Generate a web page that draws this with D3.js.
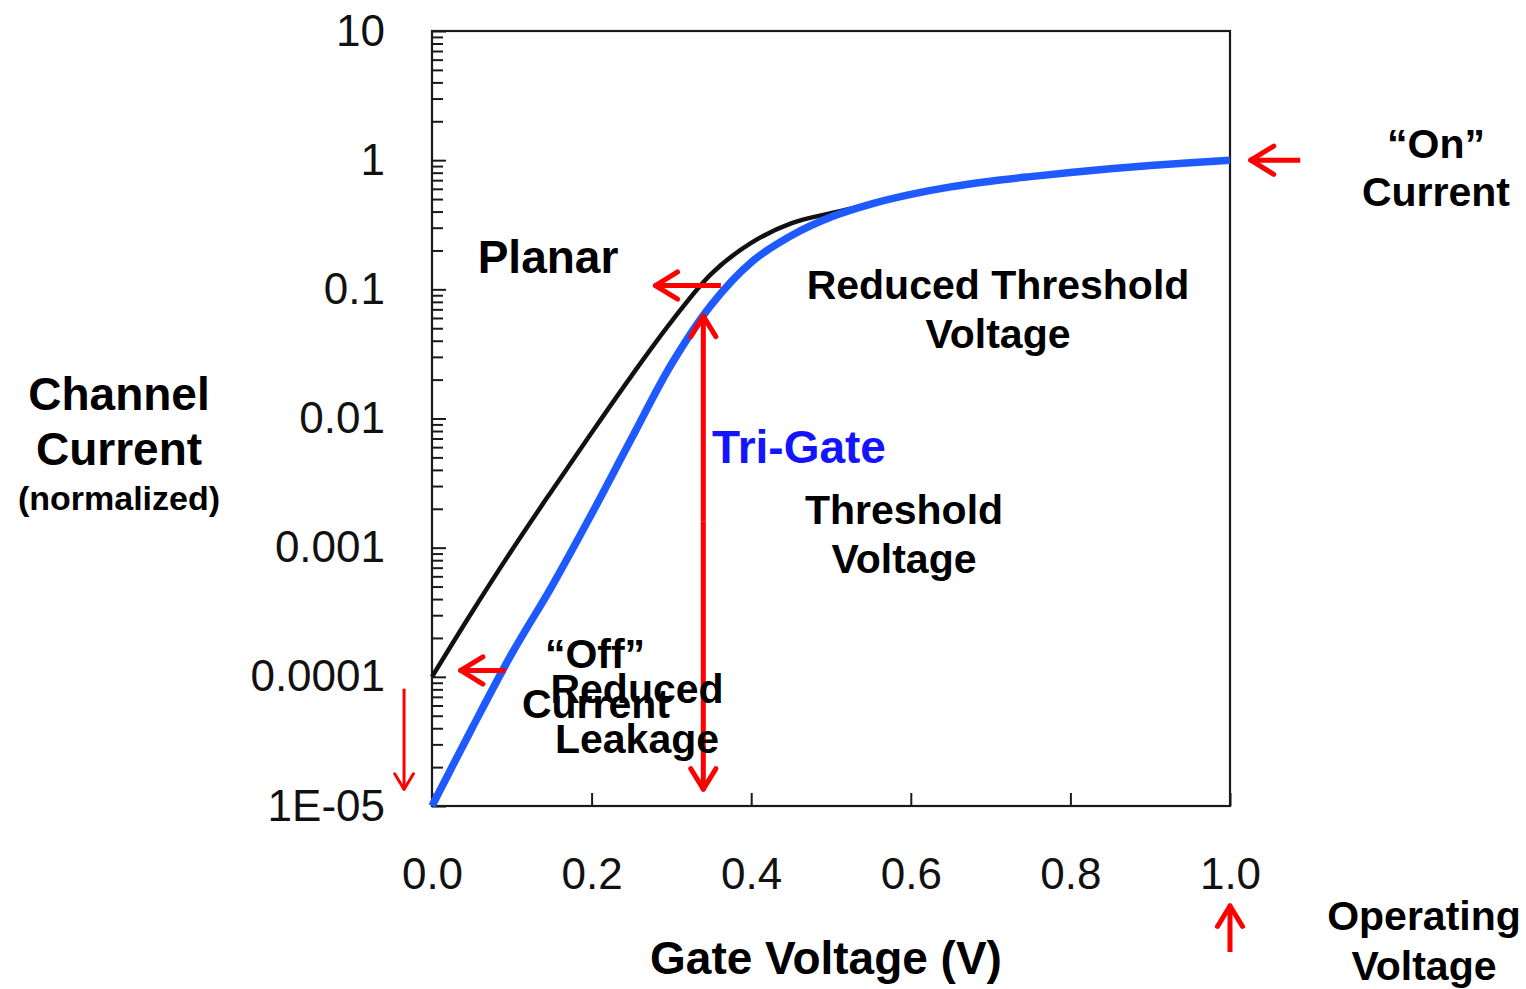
<!DOCTYPE html>
<html>
<head>
<meta charset="utf-8">
<script src="https://cdn.jsdelivr.net/npm/d3@7"></script>
<style>
  html, body { margin: 0; padding: 0; background: #fff; }
  svg { display: block; font-family: "Liberation Sans", Arial, sans-serif; }
  .tick text { fill: #111; }
  .lbl { font-weight: bold; }
</style>
</head>
<body>
<svg id="chart" width="1526" height="989"></svg>
<script>
// Gate voltage samples (V)
const planarVoltage = [0, 0.05, 0.1, 0.15, 0.2, 0.25, 0.3, 0.35, 0.4, 0.45, 0.5, 0.55, 0.6, 0.65, 0.7, 0.75, 0.8, 0.85, 0.9, 0.95, 1.0];
// Planar transistor channel current (normalized)
const planarCurrent = [1e-4, 3.16e-4, 9.55e-4, 2.75e-3, 7.76e-3, 0.0214, 0.0562, 0.132, 0.229, 0.324, 0.389, 0.457, 0.543, 0.621, 0.687, 0.746, 0.804, 0.857, 0.908, 0.955, 1.0];
// Tri-Gate gate voltage samples (V)
const triGateVoltage = [0, 0.05, 0.1, 0.15, 0.2, 0.25, 0.3, 0.35, 0.4, 0.45, 0.5, 0.55, 0.6, 0.65, 0.7, 0.75, 0.8, 0.85, 0.9, 0.95, 1.0];
// Tri-Gate transistor channel current (normalized)
const triGateCurrent = [1e-5, 3.98e-5, 1.51e-4, 5e-4, 1.82e-3, 7e-3, 0.0263, 0.0759, 0.162, 0.26, 0.363, 0.457, 0.543, 0.621, 0.687, 0.746, 0.804, 0.857, 0.908, 0.955, 1.0];

// Axis ticks
const xTicks = [0, 0.2, 0.4, 0.6, 0.8, 1.0];
const xTickLabels = ["0.0", "0.2", "0.4", "0.6", "0.8", "1.0"];
const yTicks = [10, 1, 0.1, 0.01, 0.001, 0.0001, 0.00001];
const yTickLabels = ["10", "1", "0.1", "0.01", "0.001", "0.0001", "1E-05"];

const svg = d3.select("#chart");
const margin = { left: 432, top: 31, right: 296, bottom: 183 };
const W = 1526 - margin.left - margin.right;
const H = 989 - margin.top - margin.bottom;

const x = d3.scaleLinear().domain([0, 1]).range([0, W]);
const y = d3.scaleLog().domain([1e-5, 10]).range([H, 0]);

const g = svg.append("g").attr("transform", `translate(${margin.left},${margin.top})`);

// Minor ticks on the log axis (2..9 in each decade)
const minorTicks = [];
for (let e = -5; e < 1; e++) {
  for (let m = 2; m <= 9; m++) minorTicks.push(m * Math.pow(10, e));
}

const axisStyle = sel => {
  sel.select(".domain").remove();
  sel.selectAll(".tick line").attr("stroke", "#1a1a1a").attr("stroke-width", 2);
};

g.append("g")
  .call(d3.axisLeft(y).tickValues(minorTicks).tickSize(-11).tickFormat(""))
  .call(axisStyle);

g.append("g")
  .call(d3.axisLeft(y).tickValues(yTicks).tickSize(-14).tickPadding(47)
    .tickFormat((d, i) => yTickLabels[i]))
  .call(axisStyle)
  .call(s => s.selectAll(".tick text").attr("font-size", 44)
    .attr("font-family", "'Liberation Sans', Arial, sans-serif"));

g.append("g")
  .attr("transform", `translate(0,${H})`)
  .call(d3.axisBottom(x).tickValues(xTicks).tickSize(-13).tickPadding(52)
    .tickFormat((d, i) => xTickLabels[i]))
  .call(axisStyle)
  .call(s => s.selectAll(".tick text").attr("font-size", 44)
    .attr("font-family", "'Liberation Sans', Arial, sans-serif"));

// Plot frame
g.append("rect")
  .attr("x", 0).attr("y", 0).attr("width", W).attr("height", H)
  .attr("fill", "none").attr("stroke", "#1a1a1a").attr("stroke-width", 2.2);

// Curves
const line = d3.line().curve(d3.curveCatmullRom.alpha(0.5));

g.append("path")
  .datum(planarVoltage.map((v, i) => [x(v), y(planarCurrent[i])]))
  .attr("d", line)
  .attr("fill", "none").attr("stroke", "#111").attr("stroke-width", 4.5);

g.append("path")
  .datum(triGateVoltage.map((v, i) => [x(v), y(triGateCurrent[i])]))
  .attr("d", line)
  .attr("fill", "none").attr("stroke", "#1e5aff").attr("stroke-width", 7.5);

// Red annotation arrows (open chevron heads)
function arrow(x1, y1, x2, y2, width, head) {
  const a = Math.atan2(y2 - y1, x2 - x1);
  const spread = 0.55;
  const grp = g.append("g")
    .attr("stroke", "#ff0000").attr("stroke-width", width)
    .attr("stroke-linecap", "round").attr("fill", "none");
  grp.append("line").attr("x1", x1).attr("y1", y1).attr("x2", x2).attr("y2", y2)
    .attr("stroke-linecap", "butt");
  [a + Math.PI - spread, a + Math.PI + spread].forEach(b => {
    grp.append("line")
      .attr("x1", x2).attr("y1", y2)
      .attr("x2", x2 + head * Math.cos(b)).attr("y2", y2 + head * Math.sin(b));
  });
}

// "On" current
arrow(x(1.088), y(1), x(1.026), y(1), 5, 27);
// Operating voltage
arrow(x(1.0), H + 146, x(1.0), H + 100, 5, 24);
// "Off" current
arrow(x(0.092), y(1.12e-4), x(0.036), y(1.12e-4), 5, 26);
// Reduced leakage
arrow(x(-0.035), y(8.1e-5), x(-0.035), y(1.35e-5), 3, 18);
// Planar threshold voltage
arrow(x(0.362), y(0.107), x(0.28), y(0.107), 5, 26);
// Tri-Gate threshold voltage (double headed)
arrow(x(0.34), y(1.6e-3), x(0.34), y(1.35e-5), 5, 24);
arrow(x(0.34), y(1.6e-3), x(0.34), y(0.062), 5, 24);

// Text labels
function label(tx, ty, text, size, color, anchor) {
  svg.append("text").attr("class", "lbl")
    .attr("x", tx).attr("y", ty)
    .attr("font-size", size)
    .attr("text-anchor", anchor || "middle")
    .style("fill", color || "#000")
    .text(text);
}

label(119, 410, "Channel", 46);
label(119, 465, "Current", 46);
label(119, 510, "(normalized)", 34);
label(826, 974, "Gate Voltage (V)", 46);

label(548, 273, "Planar", 46);
label(998, 299, "Reduced Threshold", 41);
label(998, 348, "Voltage", 41);
label(799, 463, "Tri-Gate", 46, "#1414ff");
label(904, 524, "Threshold", 41);
label(904, 573, "Voltage", 41);
label(595, 668, "\u201COff\u201D", 41);
label(596, 718, "Current", 41);
label(637, 703, "Reduced", 41);
label(637, 753, "Leakage", 41);
label(1436, 158, "\u201COn\u201D", 41);
label(1436, 206, "Current", 41);
label(1424, 930, "Operating", 41);
label(1424, 980, "Voltage", 41);
</script>
</body>
</html>
